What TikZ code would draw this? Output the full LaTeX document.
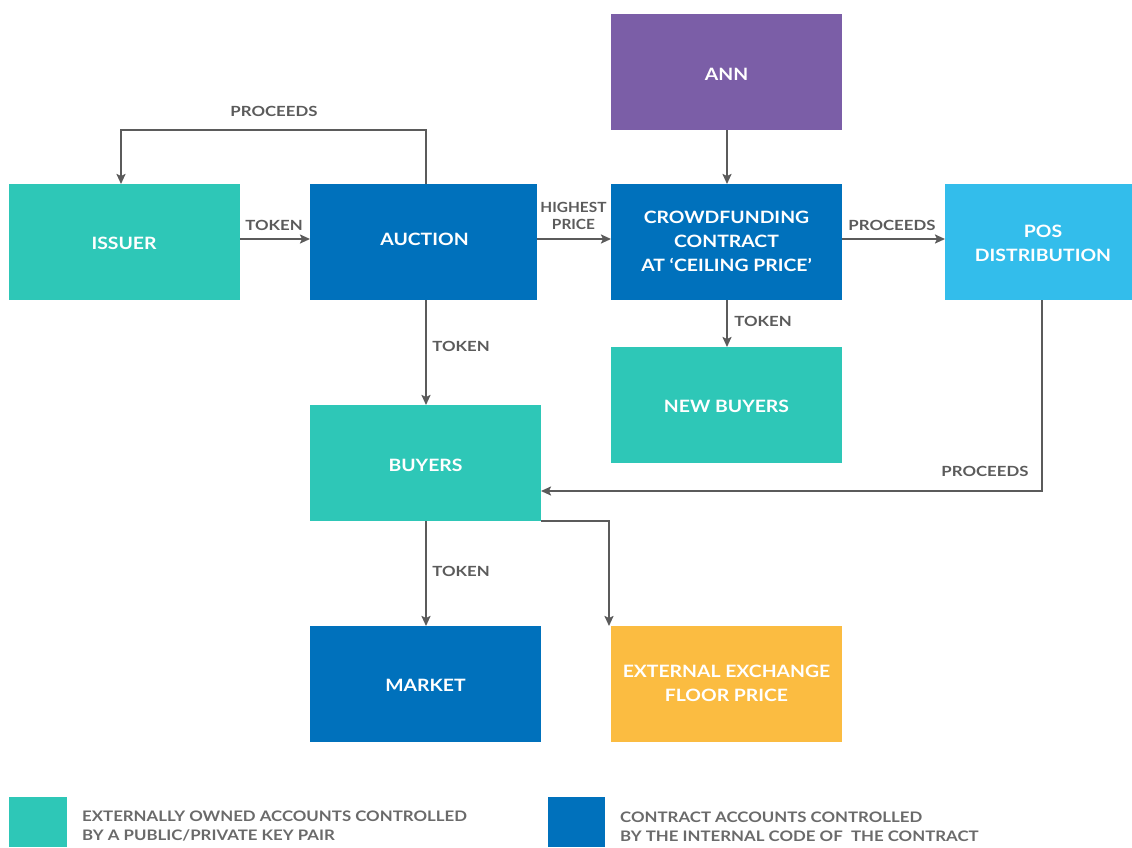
\documentclass[tikz,border=0pt]{standalone}
\usepackage{fontspec}
\setmainfont{Lato}
\newfontfamily\boxfont[FakeStretch=1.14]{Lato}
\newfontfamily\lblfont[FakeStretch=1.2]{Lato}
\newfontfamily\narrowlbl[FakeStretch=1.1]{Lato}
\newfontfamily\legfont[FakeStretch=1.16]{Lato}
\usetikzlibrary{arrows.meta}
\definecolor{teal1}{HTML}{2EC7B7}
\definecolor{blue1}{HTML}{0071BC}
\definecolor{purple1}{HTML}{7B5EA7}
\definecolor{lblue}{HTML}{33BDEB}
\definecolor{orange1}{HTML}{FBBC41}
\definecolor{gray1}{HTML}{5B5B5B}
\definecolor{gray2}{HTML}{6A6A6A}
\tikzset{
  box/.style={draw=none, inner sep=0pt, align=center, text=white, font=\boxfont\fontsize{17}{24}\selectfont\bfseries},
  conn/.style={draw=gray1, line width=2.8pt, -{Stealth[length=10pt,width=9pt,inset=2pt]}},
  lbl/.style={text=gray1, font=\lblfont\fontsize{14}{17}\selectfont\bfseries, align=center, inner sep=0pt},
  leg/.style={text=gray2, font=\legfont\fontsize{14.5}{19}\selectfont\bfseries, align=left, anchor=west, inner sep=0pt}
}
\begin{document}
\begin{tikzpicture}[x=1pt,y=-1pt]
\useasboundingbox (0,0) rectangle (1132,847);
% boxes
\fill[teal1] (9,184) rectangle (240,300);
\node[box] (issuer) at (124,243) {ISSUER};
\coordinate (issuerTop) at (121,184);
\coordinate (issuerR) at (240,239);

\fill[blue1] (310,184) rectangle (537,300);
\node[box] (auction) at (424.5,239) {AUCTION};
\coordinate (aucL) at (310,239);
\coordinate (aucR) at (537,239);
\coordinate (aucT) at (426,184);
\coordinate (aucB) at (426,300);

\fill[purple1] (611,14) rectangle (842,130);
\node[box] (ann) at (726.5,74) {ANN};
\coordinate (annB) at (727,130);

\fill[blue1] (611,184) rectangle (842,300);
\node[box] (crowd) at (726.5,241) {CROWDFUNDING\\CONTRACT\\AT ‘CEILING PRICE’};
\coordinate (crL) at (611,239);
\coordinate (crR) at (842,239);
\coordinate (crT) at (727,184);
\coordinate (crB) at (727,300);

\fill[lblue] (945,184) rectangle (1132,300);
\node[box] (pos) at (1043,243) {POS\\DISTRIBUTION};
\coordinate (posL) at (945,239);
\coordinate (posB) at (1042,300);

\fill[teal1] (611,347) rectangle (842,463);
\node[box] (newb) at (726.5,406) {NEW BUYERS};
\coordinate (newbT) at (727,347);

\fill[teal1] (310,405) rectangle (541,521);
\node[box] (buyers) at (425.5,465) {BUYERS};
\coordinate (buyT) at (426,405);
\coordinate (buyR) at (541,491);
\coordinate (buyB) at (426,521);
\coordinate (buyC) at (541,521);

\fill[blue1] (310,626) rectangle (541,742);
\node[box] (market) at (425.5,685) {MARKET};
\coordinate (markT) at (426,626);

\fill[orange1] (611,626) rectangle (842,742);
\node[box] (ext) at (726.5,683) {EXTERNAL EXCHANGE\\FLOOR PRICE};
\coordinate (extT) at (609,626);

% connectors
\coordinate (p1) at (426,130);
\coordinate (p2) at (121,130);
\draw[conn] (aucT) -- (p1) -- (p2) -- (issuerTop);
\draw[conn] (issuerR) -- (aucL);
\draw[conn] (aucR) -- (crL);
\draw[conn] (annB) -- (crT);
\draw[conn] (crR) -- (posL);
\draw[conn] (crB) -- (newbT);
\draw[conn] (aucB) -- (buyT);
\coordinate (p3) at (1042,491);
\draw[conn] (posB) -- (p3) -- (buyR);
\draw[conn] (buyB) -- (markT);
\coordinate (p4) at (609,521);
\draw[conn] (buyC) -- (p4) -- (extT);

% labels
\node[lbl] (l1) at (274,111) {PROCEEDS};
\node[lbl] (l2) at (274,225) {TOKEN};
\node[lbl, font=\narrowlbl\fontsize{14}{17}\selectfont\bfseries] (l3) at (573.5,216) {HIGHEST\\PRICE};
\node[lbl] (l4) at (892,225) {PROCEEDS};
\node[lbl] (l5) at (763,321) {TOKEN};
\node[lbl] (l6) at (461,346) {TOKEN};
\node[lbl] (l7) at (985,471) {PROCEEDS};
\node[lbl] (l8) at (461,571) {TOKEN};

% legend
\fill[teal1] (9,797) rectangle (67,847);
\fill[blue1] (548,797) rectangle (605,847);
\node[leg] (lg1) at (82,826.5) {EXTERNALLY OWNED ACCOUNTS CONTROLLED\\BY A PUBLIC/PRIVATE KEY PAIR};
\node[leg] (lg2) at (620,826.5) {CONTRACT ACCOUNTS CONTROLLED\\BY THE INTERNAL CODE OF~~THE CONTRACT};
\end{tikzpicture}
\end{document}
